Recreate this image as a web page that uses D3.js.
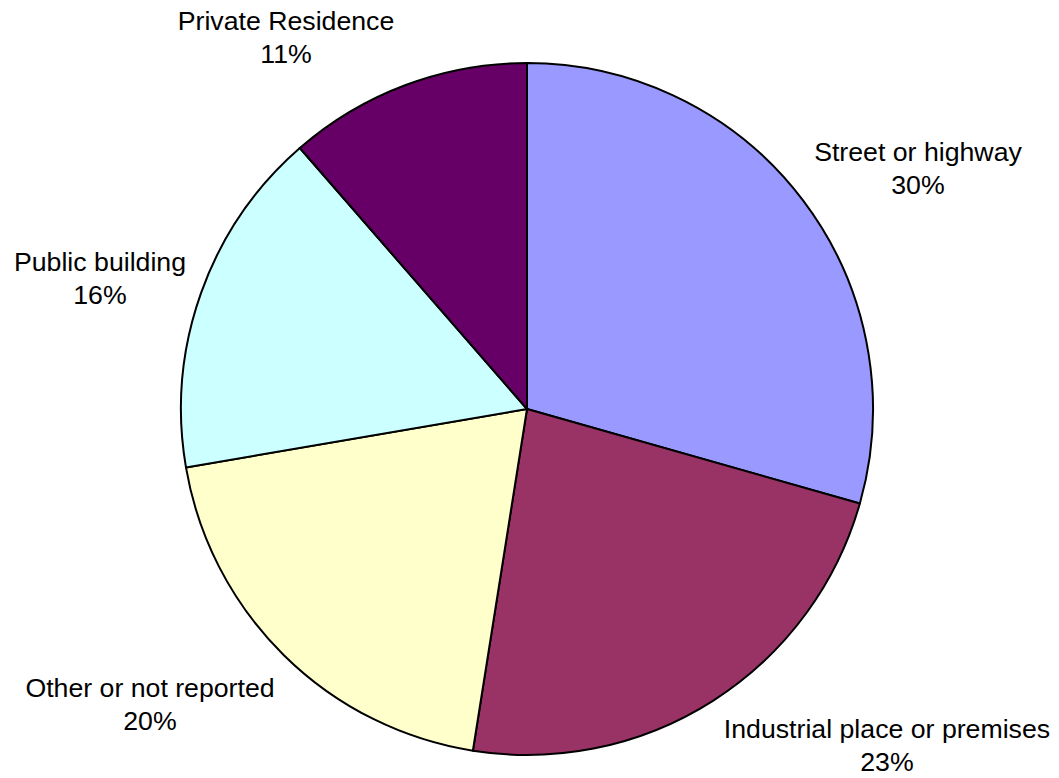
<!DOCTYPE html>
<html>
<head>
<meta charset="utf-8">
<script src="https://cdn.jsdelivr.net/npm/d3@7"></script>
<style>
  html, body { margin: 0; padding: 0; background: #fff; }
  svg { display: block; }
  text { font-family: "Liberation Sans", Arial, sans-serif; fill: #000; }
</style>
</head>
<body>
<svg id="chart" width="1059" height="778"></svg>
<script>
const categories = ["Street or highway", "Industrial place or premises", "Other or not reported", "Public building", "Private Residence"];
const values = [29.4, 23.1, 19.8, 16.3, 11.4];
const percentLabels = ["30%", "23%", "20%", "16%", "11%"];
const colors = ["#9999FF", "#993366", "#FFFFCC", "#CCFFFF", "#660066"];

// label anchor points (layout only)
const labelPos = [[918, 161], [887, 738], [150, 697], [100, 271], [286, 30]];

const cx = 527, cy = 409, R = 346;
const svg = d3.select("#chart");

const pie = d3.pie().sort(null).value(d => d)(values);
const arc = d3.arc().innerRadius(0).outerRadius(R);

const g = svg.append("g").attr("transform", `translate(${cx},${cy})`);
g.selectAll("path").data(pie).enter().append("path")
  .attr("d", arc)
  .attr("fill", (d, i) => colors[i])
  .attr("stroke", "#000")
  .attr("stroke-width", 2)
  .attr("stroke-linejoin", "round");

const lab = svg.selectAll("text.lab").data(categories).enter().append("text")
  .attr("class", "lab")
  .attr("text-anchor", "middle")
  .attr("font-size", 26.7)
  .attr("x", (d, i) => labelPos[i][0])
  .attr("y", (d, i) => labelPos[i][1]);
lab.append("tspan").attr("x", (d, i) => labelPos[i][0]).text(d => d);
lab.append("tspan").attr("x", (d, i) => labelPos[i][0]).attr("dy", 33).text((d, i) => percentLabels[i]);
</script>
</body>
</html>
